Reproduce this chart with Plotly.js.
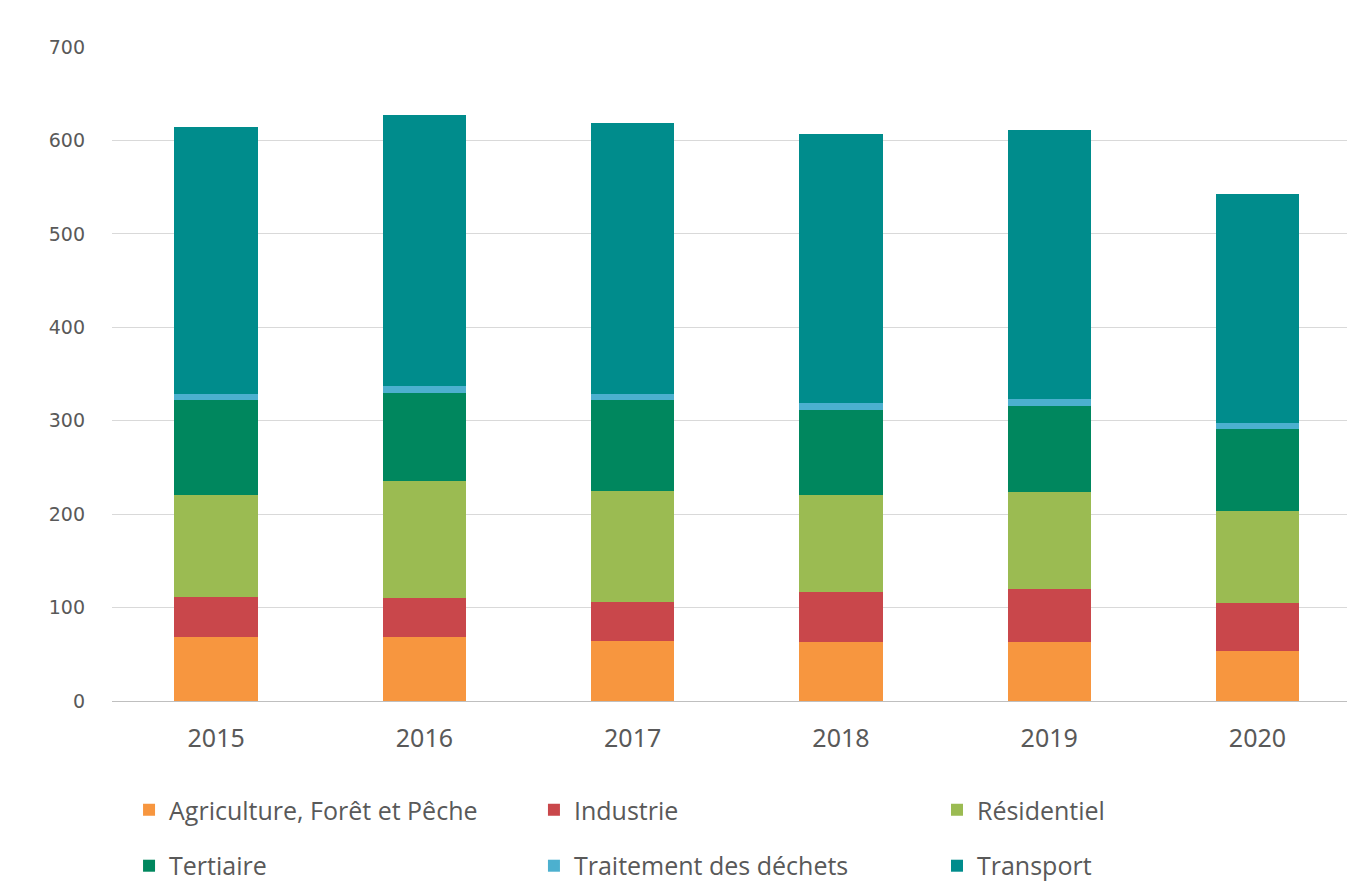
<!DOCTYPE html>
<html>
<head>
<meta charset="utf-8">
<script src="https://cdn.plot.ly/plotly-3.0.1.min.js"></script>
<style>html,body{margin:0;padding:0;background:#fff;}#chart{width:1347px;height:884px;}</style>
</head>
<body>
<div id="chart"></div>
<script>
const years = ['2015', '2016', '2017', '2018', '2019', '2020'];
const agriculture = [69, 68, 64, 63, 63, 54];
const industrie = [42, 42, 42, 54, 57, 51];
const residentiel = [110, 125, 119, 103, 104, 98];
const tertiaire = [101, 95, 97, 92, 92, 88];
const dechets = [7, 7, 7, 7, 7, 7];
const transport = [285, 290, 290, 288, 288, 245];

const names = ['Agriculture, Forêt et Pêche', 'Industrie', 'Résidentiel', 'Tertiaire', 'Traitement des déchets', 'Transport'];
const series = [agriculture, industrie, residentiel, tertiaire, dechets, transport];
const colors = ['#F7963F', '#C9474B', '#9BBB52', '#00875E', '#4CB0CF', '#008C8C'];
const legendIds = ['legend', 'legend2', 'legend3', 'legend4', 'legend5', 'legend6'];

const traces = series.map((vals, i) => ({
  type: 'bar',
  name: names[i],
  x: years,
  y: vals,
  marker: {color: colors[i]},
  width: 0.4,
  legend: legendIds[i],
  hoverinfo: 'x+y+name'
}));

const legendFont = {family: '"Open Sans", Lato, sans-serif', size: 25, color: '#595959'};
const colX = [0.0958, 0.3964, 0.6956];
const rowY = [0.0837, 0.0204];

const layout = {
  width: 1347,
  height: 884,
  barmode: 'stack',
  paper_bgcolor: '#ffffff',
  plot_bgcolor: '#ffffff',
  margin: {l: 112, r: 0, t: 47, b: 183},
  xaxis: {
    type: 'category',
    range: [-0.5, 5.43],
    showgrid: false,
    showline: true,
    linecolor: '#BFBFBF',
    linewidth: 1,
    ticks: '',
    tickfont: {family: '"Liberation Sans Narrow", "Noto Sans", sans-serif', size: 25, color: '#595959'},
    ticklabelstandoff: 15
  },
  yaxis: {
    range: [0, 700],
    tickvals: [0, 100, 200, 300, 400, 500, 600, 700],
    showgrid: true,
    gridcolor: '#D9D9D9',
    gridwidth: 1,
    zeroline: false,
    showline: false,
    ticks: '',
    tickfont: {family: '"DejaVu Sans", sans-serif', size: 19, color: '#595959'},
    ticklabelstandoff: 26
  },
  showlegend: true,
  bargap: 0.6
};

legendIds.forEach((id, i) => {
  layout[id] = {
    orientation: 'h',
    xref: 'container', yref: 'container',
    x: colX[i % 3], y: rowY[Math.floor(i / 3)],
    xanchor: 'left', yanchor: 'middle',
    itemwidth: 30,
    font: legendFont,
    bgcolor: 'rgba(0,0,0,0)'
  };
});

Plotly.newPlot('chart', traces, layout, {displayModeBar: false});
</script>
</body>
</html>
